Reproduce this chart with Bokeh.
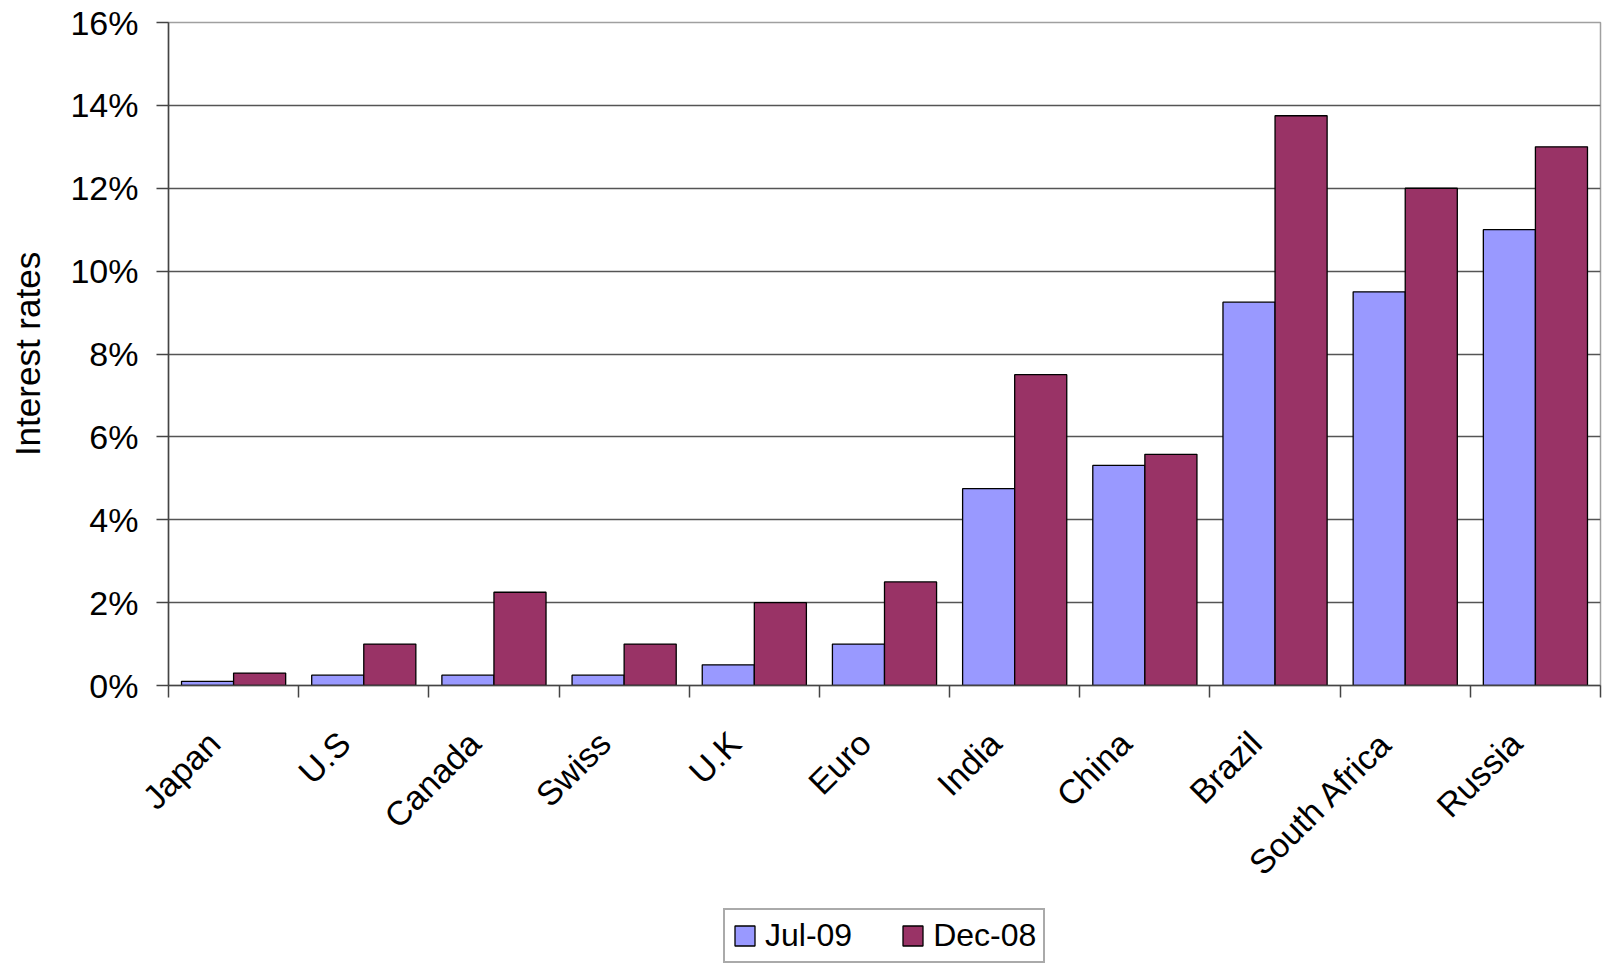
import math
from bokeh.plotting import figure
from bokeh.layouts import column
from bokeh.models import (ColumnDataSource, FixedTicker, PrintfTickFormatter,
                          Legend, LegendItem, Range1d)
from bokeh.embed import file_html
from bokeh.resources import INLINE

countries = ["Japan", "U.S", "Canada", "Swiss", "U.K", "Euro", "India",
             "China", "Brazil", "South Africa", "Russia"]
jul09 = [0.1, 0.25, 0.25, 0.25, 0.5, 1.0, 4.75, 5.31, 9.25, 9.5, 11.0]
dec08 = [0.3, 1.0, 2.25, 1.0, 2.0, 2.5, 7.5, 5.58, 13.75, 12.0, 13.0]
series_names = ["Jul-09", "Dec-08"]
y_ticks = [0, 2, 4, 6, 8, 10, 12, 14, 16]

FONT = "Liberation Sans"
JUL_COLOR = "#9999FF"
DEC_COLOR = "#993366"
W = 1604
MAIN_H = 908
LEG_H = 965 - MAIN_H

centers = [i + 0.5 for i in range(len(countries))]
label_pos = [c - 0.15 for c in centers]
src = ColumnDataSource(dict(
    x_jul=[c - 0.2 for c in centers],
    x_dec=[c + 0.2 for c in centers],
    jul=jul09,
    dec=dec08,
))

p = figure(width=W, height=MAIN_H, output_backend="svg", toolbar_location=None,
           x_range=Range1d(0, len(countries)), y_range=Range1d(0, 16),
           min_border_left=168, min_border_right=4, min_border_top=22,
           min_border_bottom=MAIN_H - 685)
p.background_fill_color = "white"
p.border_fill_color = "white"
p.outline_line_color = "#a0a0a0"
p.outline_line_width = 1.5

r_jul = p.vbar(x="x_jul", top="jul", width=0.4, bottom=0, source=src,
               fill_color=JUL_COLOR, line_color="black", line_width=1.3)
r_dec = p.vbar(x="x_dec", top="dec", width=0.4, bottom=0, source=src,
               fill_color=DEC_COLOR, line_color="black", line_width=1.3)

# x axis: labels near category centres, ticks at category boundaries
xa = p.xaxis[0]
xa.ticker = FixedTicker(ticks=label_pos, minor_ticks=list(range(len(countries) + 1)))
xa.major_label_overrides = {c: name for c, name in zip(label_pos, countries)}
xa.major_tick_line_color = None
xa.minor_tick_in = 0
xa.minor_tick_out = 12
xa.minor_tick_line_color = "#444444"
xa.minor_tick_line_width = 1.5
xa.axis_line_color = "#444444"
xa.axis_line_width = 1.5
xa.major_label_orientation = math.pi / 4
xa.major_label_text_font = FONT
xa.major_label_text_font_size = "34px"
xa.major_label_text_color = "black"
xa.major_label_standoff = 40

ya = p.yaxis[0]
ya.ticker = FixedTicker(ticks=y_ticks)
ya.formatter = PrintfTickFormatter(format="%d%%")
ya.minor_tick_line_color = None
ya.major_tick_in = 0
ya.major_tick_out = 12
ya.major_tick_line_color = "#444444"
ya.major_tick_line_width = 1.5
ya.axis_line_color = "#444444"
ya.axis_line_width = 1.5
ya.major_label_text_font = FONT
ya.major_label_text_font_size = "34px"
ya.major_label_text_color = "black"
ya.major_label_standoff = 18
ya.axis_label = "Interest rates"
ya.axis_label_text_font = FONT
ya.axis_label_text_font_size = "35px"
ya.axis_label_text_font_style = "normal"
ya.axis_label_text_color = "black"
ya.axis_label_standoff = 20

p.xgrid.visible = False
p.ygrid.ticker = FixedTicker(ticks=y_ticks[1:-1])
p.ygrid.grid_line_color = "#555555"
p.ygrid.grid_line_width = 1.5

# legend strip below the chart (its renderers are hidden; only the legend shows)
pl = figure(width=W, height=LEG_H, output_backend="svg", toolbar_location=None,
            x_range=Range1d(1000, 1011), y_range=Range1d(1000, 1001),
            x_axis_type=None, y_axis_type=None,
            min_border_left=0, min_border_right=0, min_border_top=0,
            min_border_bottom=0)
pl.outline_line_color = None
pl.xgrid.visible = False
pl.ygrid.visible = False
l_jul = pl.vbar(x="x_jul", top="jul", width=0.4, bottom=0, source=src,
                fill_color=JUL_COLOR, line_color="black", line_width=1.3)
l_dec = pl.vbar(x="x_dec", top="dec", width=0.4, bottom=0, source=src,
                fill_color=DEC_COLOR, line_color="black", line_width=1.3)
l_jul.visible = False
l_dec.visible = False

legend = Legend(items=[LegendItem(label=series_names[0], renderers=[l_jul]),
                       LegendItem(label=series_names[1], renderers=[l_dec])],
                location=(555, 2), orientation="horizontal",
                label_text_font=FONT, label_text_font_size="32px",
                label_text_color="black",
                glyph_width=25, glyph_height=25, label_standoff=8,
                spacing=48, padding=7, margin=0,
                border_line_color="#555555", border_line_width=2,
                background_fill_color="white", background_fill_alpha=1.0,
                inactive_fill_alpha=0.0)
pl.add_layout(legend, "center")

layout = column(p, pl, spacing=0)
open("out.html", "w").write(file_html(layout, INLINE))
